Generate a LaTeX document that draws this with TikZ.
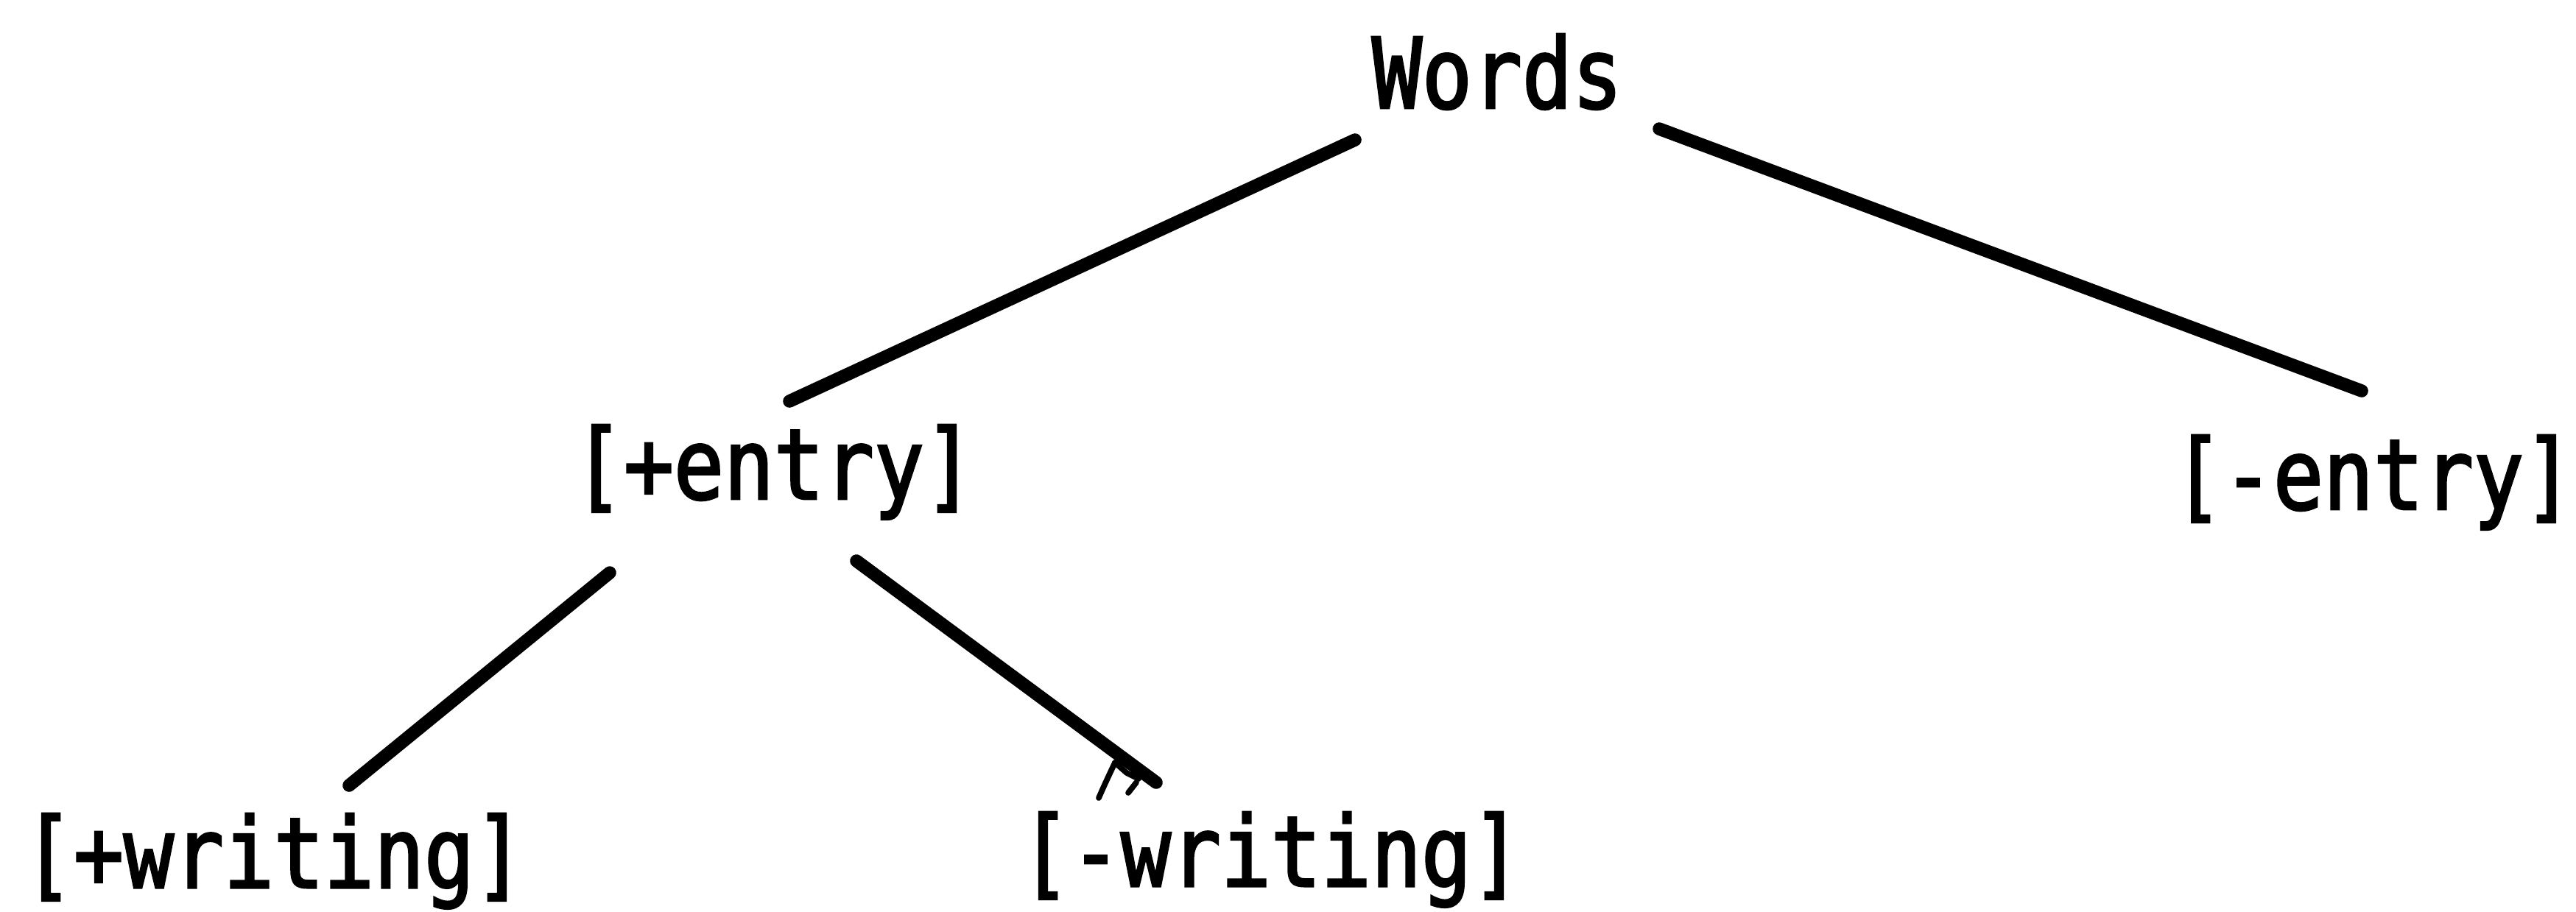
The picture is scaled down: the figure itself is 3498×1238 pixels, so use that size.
\documentclass[tikz,border=0pt]{standalone}
\usepackage{fontspec}
% typewriter-like lettering, narrowed a little and inked heavier
\newfontfamily\treefont[FakeStretch=0.85,FakeBold=2.2]{DejaVu Sans Mono}
\begin{document}
\begin{tikzpicture}[x=0.01cm,y=-0.01cm,
  feature/.style={font=\treefont\fontsize{37.8pt}{40pt}\selectfont,
    inner sep=0pt, anchor=base, text=black},
  branch/.style={line width=5pt, line cap=round, draw=black},
  scribble/.style={line width=2.2pt, line cap=round, draw=black}]
\useasboundingbox (0,0) rectangle (3498,1238);

% tree labels
\node[feature] (words) at (2033,147)  {Words};
\node[feature] (pentry) at (1051,678) {[+entry]};
\node[feature] (mentry) at (3223,692) {[-entry]};
\node[feature] (pwrit) at (372,1206)  {[+writing]};
\node[feature] (mwrit) at (1726,1204) {[-writing]};

% branch end points
\coordinate (words-l)  at (1840,190);
\coordinate (words-r)  at (2253,175);
\coordinate (pentry-t) at (1072,545);
\coordinate (mentry-t) at (3207,531);
\coordinate (pentry-l) at (828,778);
\coordinate (pentry-r) at (1163,762);
\coordinate (pwrit-t)  at (474,1067);
\coordinate (mwrit-t)  at (1570,1063);

% branches
\draw[branch] (words-l) -- (pentry-t);
\draw[branch] (words-r) -- (mentry-t);
\draw[branch] (pentry-l) -- (pwrit-t);
\draw[branch] (pentry-r) -- (mwrit-t);

% small pen stroke at the lower end of the right branch
\draw[scribble] (1514,1036) .. controls (1505,1055) and (1498,1070) .. (1492,1084);
\draw[scribble] (1514,1036) -- (1530,1050) -- (1546,1058);
\draw[scribble] (1543,1063) -- (1532,1077);
\end{tikzpicture}
\end{document}
